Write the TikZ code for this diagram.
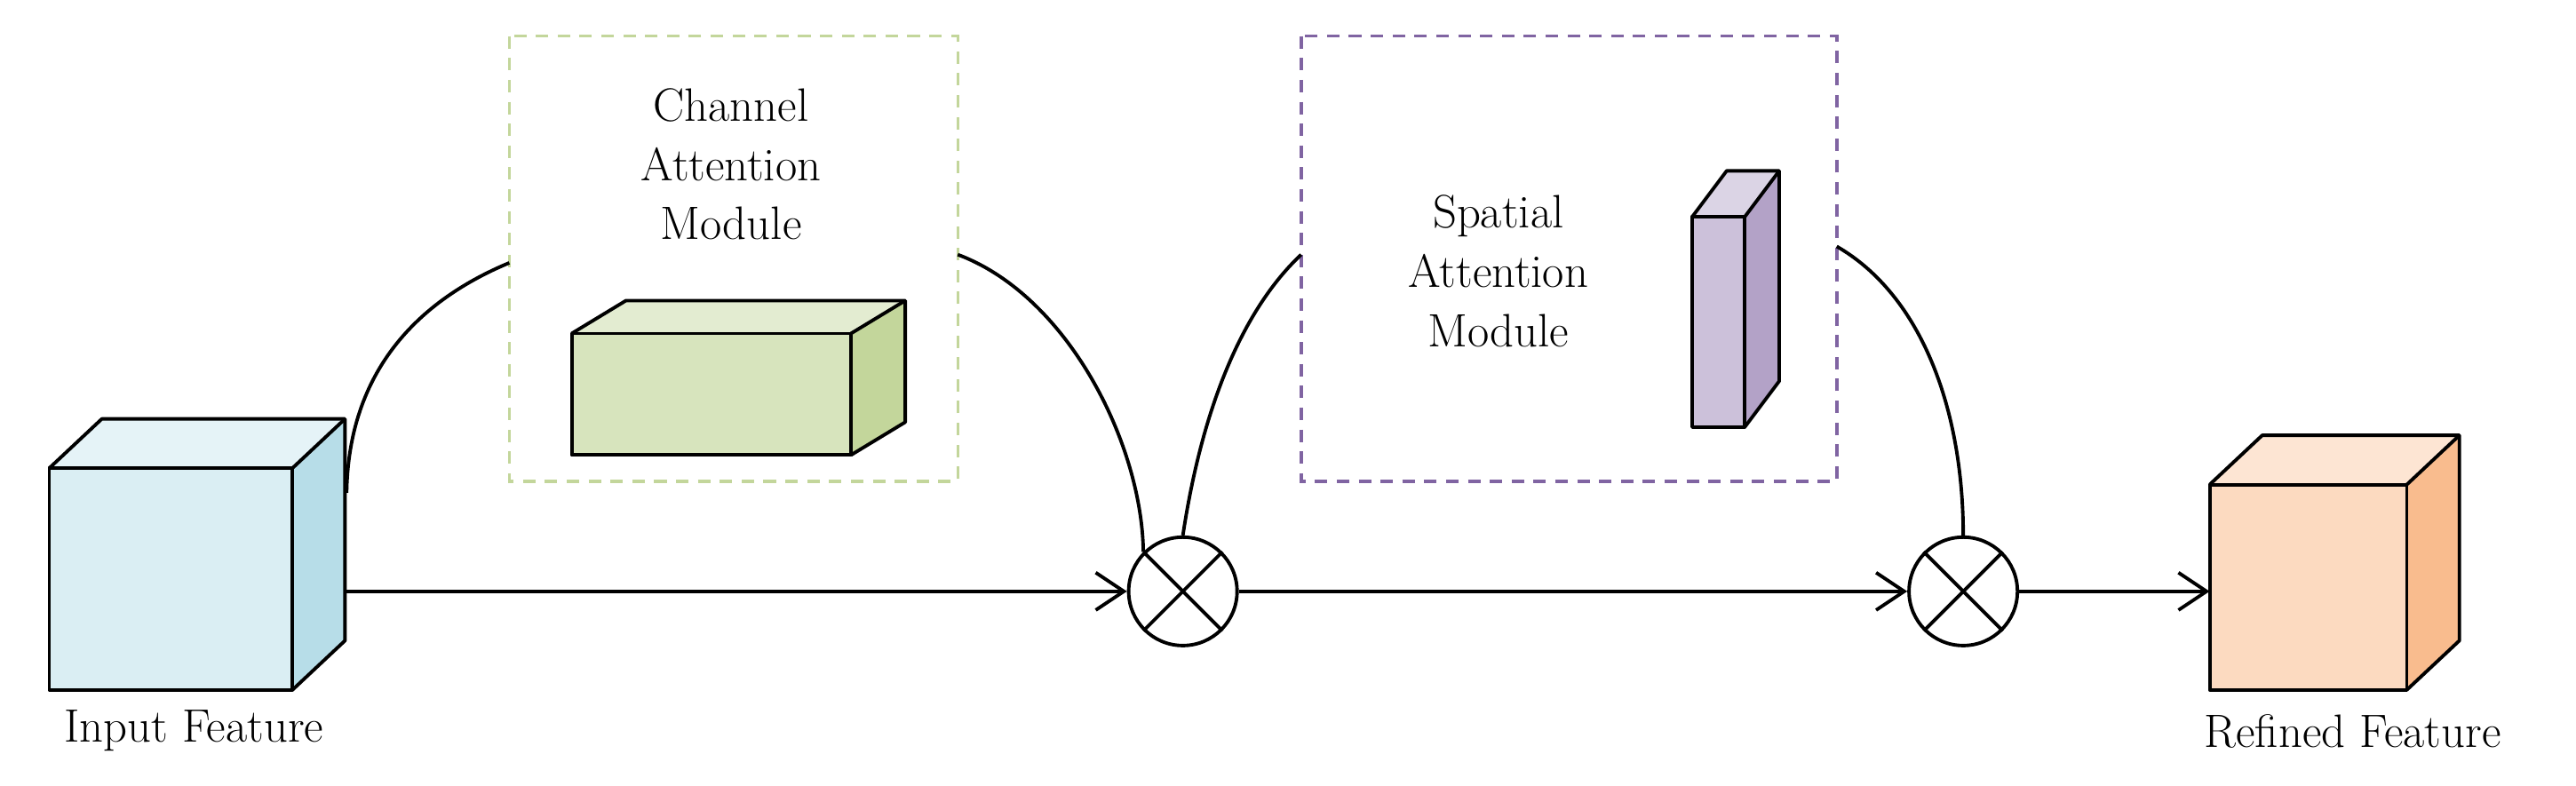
\documentclass[tikz,border=0pt]{standalone}
\usetikzlibrary{arrows.meta}
\begin{document}
\begin{tikzpicture}[x=0.0185cm,y=-0.0185cm,
  ln/.style={line width=1.1pt,line join=round},
  lbl/.style={font=\fontsize{15}{19}\selectfont,align=center},
  arr/.style={ln,-{Straight Barb[length=9pt,width=12pt,line width=1.1pt]}},
  mul/.style={circle,draw,ln,minimum size=66*0.0185cm,inner sep=0pt,fill=white},
  box/.style={dashed,line width=1pt,dash pattern=on 4pt off 3pt}]
\useasboundingbox (0,0) rectangle (1568,478);
% cuboid macro: front (x1,y1)-(x2,y2), depth (dx,dy), front colour, side colour
\newcommand{\mycuboid}[8]{%
  \fill[#7] (#1,#2) rectangle (#3,#4);
  \fill[#8] (#3,#2) -- ++(#5,#6) -- (#3+#5,#4+#6) -- (#3,#4) -- cycle;
  \fill[#7!70!white] (#1,#2) -- ++(#5,#6) -- (#3+#5,#2+#6) -- (#3,#2) -- cycle;
  \draw[ln] (#1,#2) rectangle (#3,#4);
  \draw[ln] (#1,#2) -- ++(#5,#6) -- (#3+#5,#2+#6) -- (#3+#5,#4+#6) -- (#3,#4);
  \draw[ln] (#3,#2) -- (#3+#5,#2+#6);}
\definecolor{inF}{HTML}{DAEEF3}\definecolor{inS}{HTML}{B7DDE8}
\definecolor{rfF}{HTML}{FCDAC0}\definecolor{rfS}{HTML}{F9BC8E}
\definecolor{chF}{HTML}{D7E4BD}\definecolor{chS}{HTML}{C3D69B}
\definecolor{spF}{HTML}{CCC1DA}\definecolor{spS}{HTML}{B3A2C7}
\definecolor{chB}{HTML}{C3D69B}\definecolor{spB}{HTML}{8064A2}
% dashed module boxes
\draw[box,chB] (310,22) rectangle (583,293);
\draw[box,spB] (792,22) rectangle (1118,293);
\node[lbl] (ct) at (445,100) {Channel\\Attention\\Module};
\node[lbl] (st) at (912,165) {Spatial\\Attention\\Module};
% cuboids
\mycuboid{30}{285}{178}{420}{32}{-30}{inF}{inS}
\mycuboid{348}{203}{518}{277}{33}{-20}{chF}{chS}
\mycuboid{1030}{132}{1062}{260}{21}{-28}{spF}{spS}
\mycuboid{1345}{295}{1465}{420}{32}{-30}{rfF}{rfS}
\coordinate (inR) at (210,360);
\coordinate (inT) at (211,300);
\coordinate (rfL) at (1345,360);
\node[lbl] (inl) at (118,445) {Input Feature};
\node[lbl] (rfl) at (1432,445) {Refined Feature};
% multiply nodes
\node[mul] (c1) at (720,360) {};
\node[mul] (c2) at (1195,360) {};
\foreach \c in {c1,c2}{
  \draw[ln] (\c.north west) -- (\c.south east);
  \draw[ln] (\c.north east) -- (\c.south west);}
% arrows
\draw[arr] (inR) -- (c1.west);
\draw[arr] (c1.east) -- (c2.west);
\draw[arr] (c2.east) -- (rfL);
% curves
\coordinate (b1l) at (310,160); \coordinate (b1r) at (583,155);
\coordinate (b2l) at (792,155); \coordinate (b2r) at (1118,150);
\draw[ln] (inT) .. controls (212,230) and (250,185) .. (b1l);
\draw[ln] (b1r) .. controls (650,180) and (695,270) .. (c1.north west);
\draw[ln] (c1.north) .. controls (733,240) and (760,185) .. (b2l);
\draw[ln] (b2r) .. controls (1170,180) and (1195,250) .. (c2.north);
\end{tikzpicture}
\end{document}
